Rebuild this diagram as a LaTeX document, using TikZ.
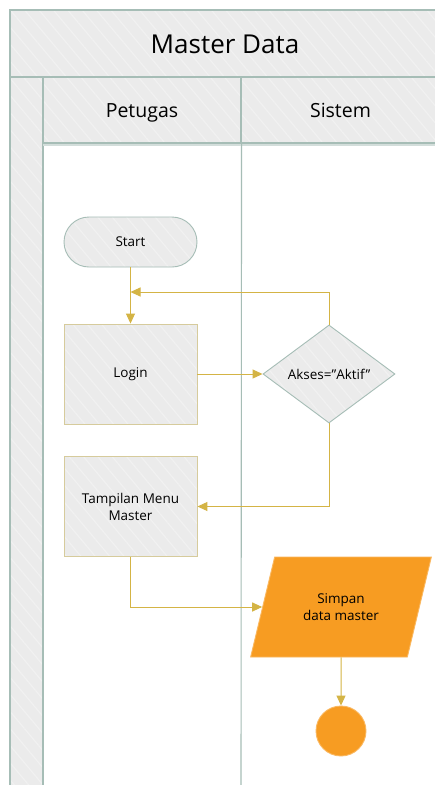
\documentclass[tikz,border=0pt]{standalone}
\usepackage{fontspec}
\setmainfont{Open Sans}
\usetikzlibrary{arrows.meta,shapes.geometric,patterns.meta,positioning}

\definecolor{paneg}{HTML}{EBEBEB}
\definecolor{laneline}{HTML}{A6BDB6}
\definecolor{boxline}{HTML}{D6CB9C}
\definecolor{flowline}{HTML}{D4B445}
\definecolor{simpanor}{HTML}{F79C22}
\definecolor{simpanln}{HTML}{FAB860}

\begin{document}
\begin{tikzpicture}[x=1pt,y=-1pt,
  hatch/.style={preaction={fill=paneg}, pattern={Lines[angle=-50,distance=11pt,line width=1.2pt]}, pattern color=white!30!paneg},
  pane/.style={hatch, draw=laneline, line width=1.1pt, inner sep=0pt, text depth=0pt},
  lanehead/.style={pane, minimum height=66pt, text height=14pt, font=\fontsize{19.5}{23}\selectfont},
  stepbox/.style={draw=boxline, line width=0.9pt, minimum width=133pt, minimum height=100pt, inner sep=2pt, align=center, font=\fontsize{13.5}{17}\selectfont},
  flow/.style={draw=flowline, line width=1pt, -{Triangle[length=10pt,width=9pt]}}
]
\useasboundingbox (0,0) rectangle (435,785);
\clip (0,0) rectangle (435,785);
\fill[white] (0,0) rectangle (435,785);

% pool and lanes
\node[pane, minimum width=430pt, minimum height=67pt, text height=19pt, font=\fontsize{26}{30}\selectfont] (pool) at (225,43.5) {Master Data};
\node[pane, minimum width=33pt, minimum height=713pt] (strip) at (26.5,433.5) {};
\draw[laneline!50, line width=2pt] (43,145) -- (440,145);
\node[lanehead, minimum width=198pt] (petugas) at (142,110) {Petugas};
\node[lanehead, minimum width=199pt] (sistem) at (340.5,110) {Sistem};
\draw[laneline, line width=1.1pt] (petugas.south east) -- (241,790);

% flow
\node[stepbox, hatch, draw=laneline, minimum height=50pt, rounded corners=25pt] (start) at (130.5,242) {Start};
\node[stepbox, hatch] (login) at (130.5,374) {Login};
\node[stepbox, hatch, diamond, draw=laneline, minimum width=132pt, minimum height=98pt, inner sep=0pt] (akses) at (329,374) {Akses=”Aktif”};
\node[stepbox, hatch] (menu) at (130.5,506.5) {Tampilan Menu\\Master};
\node[stepbox, trapezium, trapezium left angle=65, trapezium right angle=115, trapezium stretches=true, minimum width=181pt, minimum height=100pt, fill=simpanor, draw=simpanln] (simpan) at (341,607) {Simpan\\data master};
\node[circle, fill=simpanor, draw=simpanln, line width=0.9pt, minimum size=50pt, inner sep=0pt] (selesai) at (341,731) {};

\coordinate (balik) at (130.5,292);
\draw[flow] (start) -- (login);
\draw[flow] (akses.north) |- (balik);
\draw[flow] (login) -- (akses);
\draw[flow] (akses.south) |- (menu.east);
\draw[flow] (menu.south) |- (simpan.west);
\draw[flow] (simpan.south) -- (selesai);
\end{tikzpicture}
\end{document}
